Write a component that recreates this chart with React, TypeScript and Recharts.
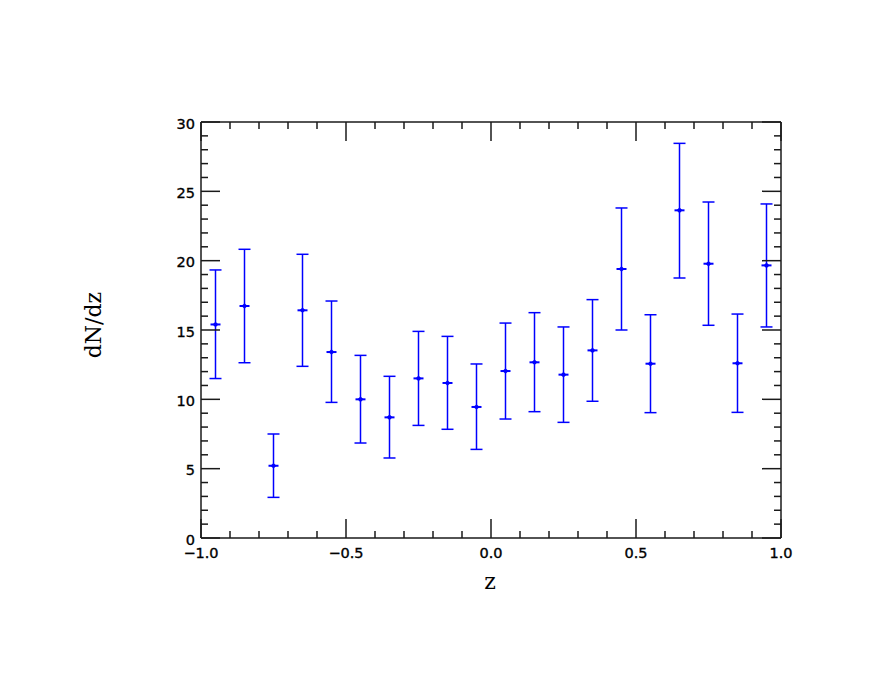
import React from "react";
import { ScatterChart, Scatter, XAxis, YAxis, ErrorBar } from "recharts";

const zValues = [-0.95, -0.85, -0.75, -0.65, -0.55, -0.45, -0.35, -0.25, -0.15, -0.05, 0.05, 0.15, 0.25, 0.35, 0.45, 0.55, 0.65, 0.75, 0.85, 0.95];
const dndz = [15.4, 16.73, 5.21, 16.42, 13.41, 10.0, 8.7, 11.51, 11.18, 9.45, 12.04, 12.67, 11.78, 13.53, 19.4, 12.57, 23.63, 19.78, 12.6, 19.66];
const upper = [19.33, 20.82, 7.5, 20.46, 17.09, 13.17, 11.66, 14.9, 14.54, 12.55, 15.5, 16.25, 15.22, 17.19, 23.8, 16.1, 28.46, 24.23, 16.15, 24.09];
const lower = [11.5, 12.64, 2.93, 12.38, 9.78, 6.85, 5.77, 8.12, 7.84, 6.39, 8.58, 9.11, 8.34, 9.86, 15.0, 9.04, 18.75, 15.34, 9.06, 15.22];

const xTicks = [-1, -0.9, -0.8, -0.7, -0.6, -0.5, -0.4, -0.3, -0.2, -0.1, 0, 0.1, 0.2, 0.3, 0.4, 0.5, 0.6, 0.7, 0.8, 0.9, 1];
const yTicks = [0, 1, 2, 3, 4, 5, 6, 7, 8, 9, 10, 11, 12, 13, 14, 15, 16, 17, 18, 19, 20, 21, 22, 23, 24, 25, 26, 27, 28, 29, 30];

const data = zValues.map((z, i) => ({
  z,
  v: dndz[i],
  err: [dndz[i] - lower[i], upper[i] - dndz[i]],
}));

const AX = "#1a1a1a";
const BLUE = "#0000ff";
const MAJ = 19;
const MIN = 7;
const labelFont = "'DejaVu Sans', sans-serif";

const isMajorX = (v: number) => Math.abs(v * 2 - Math.round(v * 2)) < 1e-6;
const isMajorY = (v: number) => Math.abs(v / 5 - Math.round(v / 5)) < 1e-6;
const fmtX = (v: number) => (v < 0 ? "\u2212" : "") + Math.abs(v).toFixed(1);

const BottomTick = (props: any) => {
  const { x, y, payload } = props;
  const v = payload.value;
  const major = isMajorX(v);
  return (
    <g>
      <line x1={x} x2={x} y1={y} y2={y - (major ? MAJ : MIN)} stroke={AX} strokeWidth={1.5} />
      {major && (
        <text x={x} y={y + 20} textAnchor="middle" fontFamily={labelFont} fontSize={14.5} fill="#000" stroke="#000" strokeWidth={0.35}>
          {fmtX(v)}
        </text>
      )}
    </g>
  );
};

const TopTick = (props: any) => {
  const { x, y, payload } = props;
  const major = isMajorX(payload.value);
  return <line x1={x} x2={x} y1={y} y2={y + (major ? MAJ : MIN)} stroke={AX} strokeWidth={1.5} />;
};

const LeftTick = (props: any) => {
  const { x, y, payload } = props;
  const v = payload.value;
  const major = isMajorY(v);
  return (
    <g>
      <line x1={x} x2={x + (major ? MAJ : MIN)} y1={y} y2={y} stroke={AX} strokeWidth={1.5} />
      {major && (
        <text x={x - 6} y={y + 6.5} textAnchor="end" fontFamily={labelFont} fontSize={14.5} fill="#000" stroke="#000" strokeWidth={0.35}>
          {String(v)}
        </text>
      )}
    </g>
  );
};

const RightTick = (props: any) => {
  const { x, y, payload } = props;
  const major = isMajorY(payload.value);
  return <line x1={x} x2={x - (major ? MAJ : MIN)} y1={y} y2={y} stroke={AX} strokeWidth={1.5} />;
};

const Marker = (props: any) => {
  const { cx, cy } = props;
  if (cx == null || cy == null) return null;
  return (
    <g>
      <line x1={cx - 5} x2={cx + 5} y1={cy} y2={cy} stroke={BLUE} strokeWidth={2} />
      <path d={`M${cx},${cy - 2.8} L${cx + 3},${cy} L${cx},${cy + 2.8} L${cx - 3},${cy} Z`} fill={BLUE} />
    </g>
  );
};

export default function App() {
  return (
    <div style={{ position: "absolute", left: 0, top: 0, width: 896, height: 692, background: "#fff" }}>
      <ScatterChart width={896} height={692} margin={{ top: 92, right: 55, bottom: 124, left: 141 }}>
        <XAxis
          xAxisId="b"
          type="number"
          dataKey="z"
          domain={[-1, 1]}
          ticks={xTicks}
          interval={0}
          orientation="bottom"
          height={30}
          tickSize={0}
          tickMargin={0}
          tickLine={false}
          axisLine={{ stroke: AX, strokeWidth: 1.5 }}
          tick={BottomTick}
          allowDataOverflow
        />
        <XAxis
          xAxisId="t"
          type="number"
          dataKey="z"
          domain={[-1, 1]}
          ticks={xTicks}
          interval={0}
          orientation="top"
          height={30}
          tickSize={0}
          tickMargin={0}
          tickLine={false}
          axisLine={{ stroke: AX, strokeWidth: 1.5 }}
          tick={TopTick}
          allowDataOverflow
        />
        <YAxis
          yAxisId="l"
          type="number"
          dataKey="v"
          domain={[0, 30]}
          ticks={yTicks}
          interval={0}
          orientation="left"
          width={60}
          tickSize={0}
          tickMargin={0}
          tickLine={false}
          axisLine={{ stroke: AX, strokeWidth: 1.5 }}
          tick={LeftTick}
          allowDataOverflow
        />
        <YAxis
          yAxisId="r"
          type="number"
          dataKey="v"
          domain={[0, 30]}
          ticks={yTicks}
          interval={0}
          orientation="right"
          width={60}
          tickSize={0}
          tickMargin={0}
          tickLine={false}
          axisLine={{ stroke: AX, strokeWidth: 1.5 }}
          tick={RightTick}
          allowDataOverflow
        />
        <Scatter
          data={data}
          xAxisId="b"
          yAxisId="l"
          dataKey="v"
          fill={BLUE}
          shape={Marker}
          isAnimationActive={false}
        >
          <ErrorBar dataKey="err" direction="y" width={6} stroke={BLUE} strokeWidth={1.5} isAnimationActive={false} />
        </Scatter>
      </ScatterChart>
      <div
        style={{
          position: "absolute",
          left: 93,
          top: 325,
          transform: "translate(-50%, -50%) rotate(-90deg)",
          fontFamily: "'DejaVu Serif', serif",
          fontSize: 22,
          whiteSpace: "nowrap",
          color: "#000",
        }}
      >
        dN/dz
      </div>
      <div
        style={{
          position: "absolute",
          left: 490,
          top: 581,
          transform: "translate(-50%, -50%)",
          fontFamily: "'DejaVu Serif', serif",
          fontSize: 22,
          color: "#000",
        }}
      >
        z
      </div>
    </div>
  );
}
